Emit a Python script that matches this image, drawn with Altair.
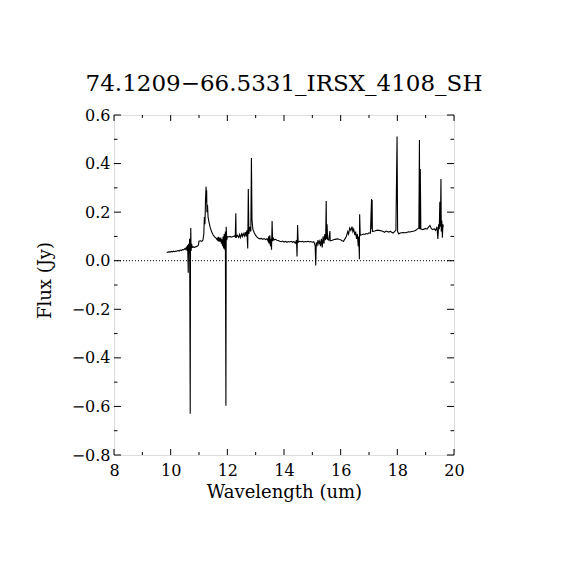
import altair as alt
import pandas as pd

# ---- data ----
wavelength = [
    9.86, 9.90, 9.94, 9.98, 10.02, 10.06, 10.10, 10.14, 10.18, 10.22, 10.26, 10.30,
    10.34, 10.38, 10.42, 10.46, 10.50, 10.53, 10.56, 10.58, 10.60, 10.62, 10.63, 10.65,
    10.67, 10.69, 10.70, 10.71, 10.72, 10.74, 10.76, 10.80, 10.85, 10.90, 10.95, 10.98,
    11.00, 11.05, 11.10, 11.14, 11.17, 11.19, 11.21, 11.23, 11.25, 11.26, 11.27, 11.28,
    11.30, 11.32, 11.35, 11.40, 11.45, 11.50, 11.55, 11.60, 11.63, 11.65, 11.67, 11.69,
    11.71, 11.73, 11.75, 11.77, 11.79, 11.81, 11.83, 11.85, 11.87, 11.89, 11.91, 11.93,
    11.95, 11.96, 11.98, 12.00, 12.05, 12.10, 12.15, 12.20, 12.25, 12.28, 12.30, 12.31,
    12.35, 12.40, 12.43, 12.46, 12.50, 12.53, 12.56, 12.60, 12.63, 12.66, 12.69, 12.72,
    12.74, 12.76, 12.80, 12.83, 12.85, 12.87, 12.90, 12.95, 13.00, 13.05, 13.10, 13.15,
    13.20, 13.25, 13.30, 13.35, 13.40, 13.44, 13.46, 13.48, 13.50, 13.52, 13.54, 13.56,
    13.58, 13.60, 13.62, 13.65, 13.70, 13.75, 13.80, 13.85, 13.90, 13.95, 14.00, 14.05,
    14.10, 14.15, 14.20, 14.25, 14.30, 14.35, 14.40, 14.44, 14.46, 14.48, 14.50, 14.55,
    14.60, 14.65, 14.70, 14.75, 14.80, 14.85, 14.90, 14.95, 15.00, 15.05, 15.08, 15.10,
    15.12, 15.14, 15.17, 15.20, 15.23, 15.26, 15.29, 15.32, 15.35, 15.38, 15.41, 15.44,
    15.47, 15.49, 15.50, 15.52, 15.54, 15.58, 15.62, 15.63, 15.70, 15.80, 15.90, 15.95,
    16.00, 16.05, 16.10, 16.15, 16.20, 16.25, 16.28, 16.32, 16.36, 16.40, 16.43, 16.46,
    16.50, 16.53, 16.56, 16.59, 16.62, 16.64, 16.66, 16.67, 16.69, 16.75, 16.80, 16.85,
    16.90, 16.95, 17.00, 17.05, 17.09, 17.10, 17.11, 17.12, 17.20, 17.30, 17.40, 17.50,
    17.55, 17.60, 17.70, 17.75, 17.80, 17.85, 17.90, 17.95, 17.99, 18.01, 18.05, 18.10,
    18.20, 18.30, 18.40, 18.45, 18.50, 18.60, 18.65, 18.70, 18.76, 18.78, 18.79, 18.81,
    18.83, 18.90, 19.00, 19.05, 19.10, 19.15, 19.18, 19.20, 19.25, 19.30, 19.35, 19.40,
    19.43, 19.46, 19.48, 19.50, 19.52, 19.54, 19.55, 19.57, 19.59, 19.61, 19.62,
]
flux = [
    0.036, 0.034, 0.037, 0.035, 0.038, 0.036, 0.039, 0.037, 0.040, 0.039, 0.042, 0.040,
    0.044, 0.042, 0.046, 0.045, 0.050, 0.047, 0.058, 0.040, 0.065, -0.050, 0.070, 0.030,
    0.090, -0.630, 0.060, 0.135, 0.040, 0.070, 0.055, 0.057, 0.055, 0.058, 0.060, 0.065,
    0.080, 0.082, 0.080, 0.085, 0.110, 0.180, 0.150, 0.250, 0.305, 0.240, 0.290, 0.200,
    0.230, 0.180, 0.160, 0.135, 0.118, 0.106, 0.098, 0.093, 0.088, 0.095, 0.080, 0.098,
    0.078, 0.090, 0.084, 0.095, 0.070, 0.088, 0.060, 0.100, 0.050, 0.110, 0.045, 0.120,
    -0.597, 0.140, 0.085, 0.100, 0.098, 0.100, 0.097, 0.100, 0.102, 0.098, 0.195, 0.095,
    0.105, 0.096, 0.108, 0.095, 0.110, 0.100, 0.112, 0.102, 0.118, 0.100, 0.125, 0.050,
    0.295, 0.110, 0.140, 0.120, 0.423, 0.170, 0.130, 0.115, 0.104, 0.097, 0.092, 0.090,
    0.092, 0.088, 0.091, 0.087, 0.090, 0.080, 0.100, 0.070, 0.105, 0.060, 0.090, 0.045,
    0.163, 0.080, 0.095, 0.085, 0.088, 0.084, 0.083, 0.080, 0.078, 0.081, 0.077, 0.080,
    0.076, 0.079, 0.077, 0.080, 0.076, 0.079, 0.072, 0.085, 0.017, 0.147, 0.076, 0.080,
    0.078, 0.080, 0.077, 0.079, 0.078, 0.080, 0.077, 0.079, 0.076, 0.078, 0.070, 0.060,
    -0.020, 0.075, 0.065, 0.085, 0.070, 0.080, 0.060, 0.090, 0.055, 0.100, 0.070, 0.110,
    0.085, 0.246, 0.090, 0.150, 0.088, 0.085, 0.122, 0.082, 0.084, 0.088, 0.090, 0.087,
    0.086, 0.082, 0.080, 0.090, 0.100, 0.120, 0.110, 0.135, 0.125, 0.140, 0.120, 0.130,
    0.105, 0.120, 0.090, 0.110, 0.060, 0.100, 0.006, 0.191, 0.105, 0.107, 0.110, 0.108,
    0.112, 0.110, 0.115, 0.113, 0.254, 0.130, 0.250, 0.120, 0.122, 0.126, 0.124, 0.120,
    0.117, 0.122, 0.118, 0.121, 0.117, 0.114, 0.120, 0.125, 0.511, 0.120, 0.110, 0.114,
    0.116, 0.115, 0.119, 0.118, 0.120, 0.122, 0.125, 0.130, 0.135, 0.497, 0.130, 0.378,
    0.130, 0.128, 0.133, 0.130, 0.138, 0.145, 0.138, 0.132, 0.128, 0.132, 0.125, 0.140,
    0.090, 0.150, 0.130, 0.243, 0.140, 0.336, 0.120, 0.165, 0.095, 0.150, 0.140,
]

x_major = [8, 10, 12, 14, 16, 18, 20]
x_minor = [9, 11, 13, 15, 17, 19]
y_major = [-0.8, -0.6, -0.4, -0.2, 0.0, 0.2, 0.4, 0.6]
y_minor = [-0.7, -0.5, -0.3, -0.1, 0.1, 0.3, 0.5]
zero_level = [0.0]

title_text = "74.1209\u221266.5331_IRSX_4108_SH"
x_title = "Wavelength (um)"
y_title = "Flux (Jy)"

FONT = "DejaVu Serif"
W = 340
H = 340

spec = pd.DataFrame({"w": wavelength, "f": flux})
xmaj = pd.DataFrame({"v": x_major})
xmin = pd.DataFrame({"v": x_minor})
ymaj = pd.DataFrame({"v": y_major})
ymin = pd.DataFrame({"v": y_minor})
zero = pd.DataFrame({"v": zero_level})

xs = alt.Scale(domain=[8, 20], nice=False, zero=False)
ys = alt.Scale(domain=[-0.8, 0.6], nice=False, zero=False)

x_axis = alt.Axis(
    values=x_major, format="d", ticks=False, domain=False, grid=False,
    labelFont=FONT, labelFontSize=16, labelColor="black", labelPadding=7,
    labelFlush=False, labelOverlap=False,
    title=x_title, titleFont=FONT, titleFontSize=18, titleFontWeight="normal",
    titleColor="black", titleBaseline="top", titleY=28, titleX=W / 2,
)
y_axis = alt.Axis(
    values=y_major, format=".1f", ticks=False, domain=False, grid=False,
    labelFont=FONT, labelFontSize=16, labelColor="black", labelPadding=4,
    labelFlush=False, labelOverlap=False,
    title=y_title, titleFont=FONT, titleFontSize=18, titleFontWeight="normal",
    titleColor="black", titleBaseline="middle", titleX=-69, titleY=H / 2 - 5,
    titleAngle=270,
)

line = alt.Chart(spec).mark_line(color="black", strokeWidth=1.1).encode(
    x=alt.X("w:Q", scale=xs, axis=x_axis),
    y=alt.Y("f:Q", scale=ys, axis=y_axis),
)

zline = alt.Chart(zero).mark_rule(color="black", strokeWidth=1, strokeDash=[1, 2]).encode(
    y=alt.Y("v:Q", scale=ys, axis=y_axis),
    x=alt.value(0), x2=alt.value(W),
)

def xticks(df, y0, y1):
    return alt.Chart(df).mark_rule(color="black", strokeWidth=1).encode(
        x=alt.X("v:Q", scale=xs, axis=x_axis),
        y=alt.value(y0), y2=alt.value(y1),
    )

def yticks(df, x0, x1):
    return alt.Chart(df).mark_rule(color="black", strokeWidth=1).encode(
        y=alt.Y("v:Q", scale=ys, axis=y_axis),
        x=alt.value(x0), x2=alt.value(x1),
    )

layers = [
    line,
    zline,
    xticks(xmaj, H, H - 6), xticks(xmin, H, H - 3),
    xticks(xmaj, 0, 6), xticks(xmin, 0, 3),
    yticks(ymaj, 0, 7), yticks(ymin, 0, 3.5),
    yticks(ymaj, W, W - 7), yticks(ymin, W, W - 3.5),
]

chart = alt.layer(*layers).properties(
    width=W, height=H,
    title=alt.TitleParams(title_text, font=FONT, fontSize=23, fontWeight="normal",
                          color="black", anchor="middle", baseline="alphabetic", offset=-7),
    autosize=alt.AutoSizeParams(type="none"),
    padding={"left": 106, "top": 107, "right": 100, "bottom": 100},
).configure_view(stroke="black", strokeWidth=1).configure(background="white")

chart.save("out.html", embed_options={"renderer": "svg", "actions": False})
